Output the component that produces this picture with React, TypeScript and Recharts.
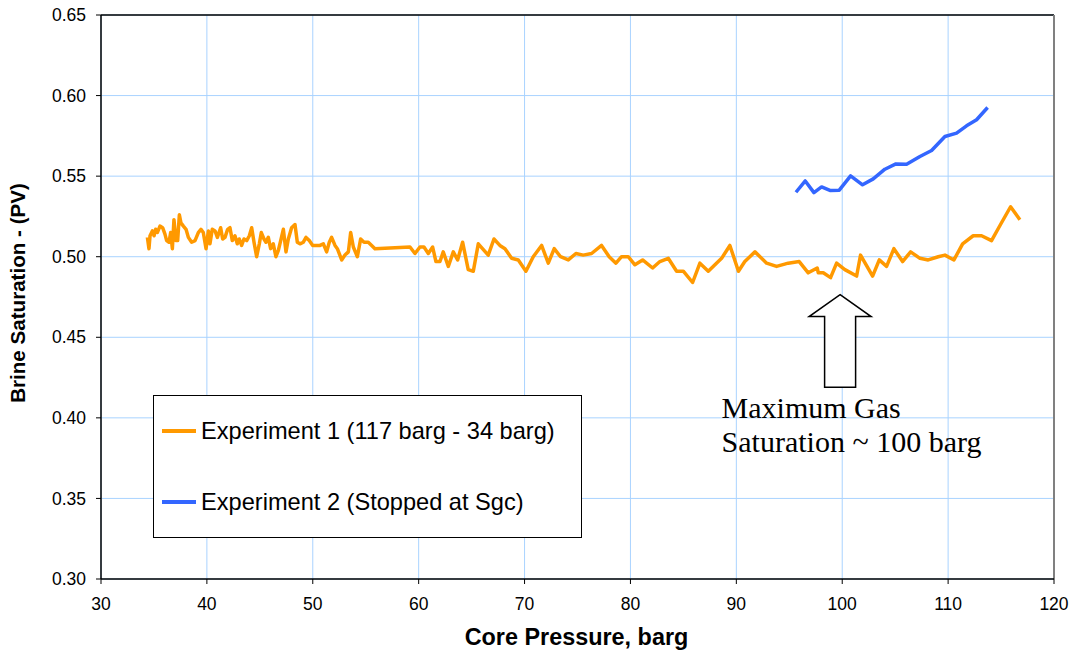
import React from 'react';
import {
  LineChart,
  Line,
  XAxis,
  YAxis,
  CartesianGrid,
  Legend,
  ReferenceLine,
  ReferenceDot,
  Label,
} from 'recharts';

const SANS = '"Liberation Sans", Arial, Helvetica, sans-serif';
const SERIF = '"Liberation Serif", "Times New Roman", serif';

const exp1Pressure = [
  34.38, 34.53, 34.63, 34.85, 35.01, 35.16, 35.32, 35.57, 35.82, 36.04, 36.2, 36.42, 36.58, 36.74, 36.89,
  37.08, 37.24, 37.4, 37.55, 37.78, 38.03, 38.25, 38.56, 38.88, 39.19, 39.44, 39.66, 39.92, 40.14, 40.29,
  40.51, 40.77, 40.99, 41.3, 41.49, 41.71, 41.96, 42.18, 42.4, 42.65, 42.87, 43.06, 43.28, 43.5, 43.76,
  44.01, 44.23, 44.45, 44.7, 44.95, 45.14, 45.39, 45.58, 45.8, 46.02, 46.27, 46.52, 46.75, 46.97, 47.22,
  47.47, 47.69, 48.0, 48.32, 48.54, 48.79, 49.11, 49.36, 49.67, 49.99, 50.37, 50.68, 51.0, 51.31, 51.56,
  51.78, 52.1, 52.32, 52.73, 53.04, 53.36, 53.58, 53.83, 54.21, 54.52, 54.84, 55.24, 55.56, 55.87, 59.18,
  59.65, 60.12, 60.5, 60.91, 61.32, 61.63, 62.01, 62.32, 62.8, 63.27, 63.68, 64.15, 64.68, 65.16, 65.63,
  66.57, 67.11, 67.67, 68.15, 68.78, 69.41, 70.13, 70.82, 71.61, 72.24, 72.8, 73.4, 74.13, 74.85, 75.54,
  76.33, 77.27, 77.99, 78.63, 79.16, 79.79, 80.42, 81.15, 82.09, 82.78, 83.57, 84.36, 84.99, 85.87, 86.56,
  87.35, 88.61, 89.39, 90.2, 90.8, 91.76, 92.86, 93.8, 94.9, 95.94, 96.79, 97.64, 97.74, 98.21, 98.9,
  99.47, 100.25, 101.36, 101.73, 102.87, 103.5, 104.19, 104.88, 105.7, 106.46, 107.34, 108.12, 109.07, 109.7, 110.55,
  111.37, 112.37, 113.16, 114.1, 114.95, 115.9, 116.78,
];

const exp1Saturation = [
  0.512, 0.505, 0.513, 0.516, 0.513, 0.517, 0.515, 0.519, 0.518, 0.514, 0.51, 0.509, 0.515, 0.505, 0.523,
  0.51, 0.51, 0.526, 0.521, 0.519, 0.517, 0.512, 0.509, 0.51, 0.515, 0.517, 0.515, 0.505, 0.516, 0.508,
  0.517, 0.516, 0.512, 0.518, 0.511, 0.512, 0.517, 0.518, 0.51, 0.513, 0.508, 0.511, 0.507, 0.511, 0.51,
  0.513, 0.518, 0.509, 0.5, 0.508, 0.515, 0.511, 0.509, 0.512, 0.505, 0.508, 0.5, 0.504, 0.51, 0.517,
  0.503, 0.511, 0.518, 0.52, 0.509, 0.508, 0.509, 0.512, 0.51, 0.507, 0.507, 0.507, 0.508, 0.503, 0.509,
  0.512, 0.507, 0.505, 0.498, 0.501, 0.503, 0.515, 0.506, 0.5, 0.511, 0.509, 0.509, 0.507, 0.505, 0.506,
  0.502, 0.506, 0.506, 0.502, 0.506, 0.497, 0.497, 0.503, 0.494, 0.503, 0.498, 0.509, 0.492, 0.491, 0.508,
  0.501, 0.511, 0.507, 0.505, 0.499, 0.498, 0.491, 0.5, 0.507, 0.496, 0.505, 0.5, 0.498, 0.502, 0.501,
  0.502, 0.507, 0.5, 0.496, 0.5, 0.5, 0.495, 0.498, 0.493, 0.497, 0.499, 0.491, 0.491, 0.484, 0.496,
  0.491, 0.499, 0.507, 0.491, 0.497, 0.503, 0.496, 0.494, 0.496, 0.497, 0.49, 0.493, 0.49, 0.49, 0.487,
  0.496, 0.492, 0.488, 0.501, 0.488, 0.498, 0.494, 0.505, 0.497, 0.503, 0.499, 0.498, 0.5, 0.501, 0.498,
  0.508, 0.513, 0.513, 0.51, 0.52, 0.531, 0.523,
];

const exp2Pressure = [
  95.63, 96.51, 97.33, 98.05, 98.84, 99.72, 100.79, 101.92, 102.93, 104.03, 105.07, 106.08, 107.34, 108.44,
  109.7, 110.8, 111.74, 112.69, 113.73,
];

const exp2Saturation = [
  0.54, 0.547, 0.5398, 0.5433, 0.5411, 0.5413, 0.5502, 0.5446, 0.5483, 0.5543, 0.5576, 0.5574, 0.5622, 0.5659,
  0.5746, 0.5767, 0.5812, 0.585, 0.5926,
];

const xTicks = [30, 40, 50, 60, 70, 80, 90, 100, 110, 120];
const yTicks = [0.3, 0.35, 0.4, 0.45, 0.5, 0.55, 0.6, 0.65];

const seriesNames = ['Experiment 1 (117 barg - 34 barg)', 'Experiment 2 (Stopped at Sgc)'];
const seriesColors = ['#FF9900', '#3366FF'];
const xTitle = 'Core Pressure, barg';
const yTitle = 'Brine Saturation - (PV)';
const annotationLines = ['Maximum Gas', 'Saturation ~ 100 barg'];
const arrowTipPressure = 99.8;
const arrowTipSaturation = 0.4765;

const exp1Data = exp1Pressure.map((p, i) => ({ p, s: exp1Saturation[i] }));
const exp2Data = exp2Pressure.map((p, i) => ({ p, s: exp2Saturation[i] }));

const ArrowShape = (props: any) => {
  const { cx, cy } = props;
  if (cx == null || cy == null) return null;
  const rel = [
    [0, 0],
    [31, 22],
    [15.5, 22],
    [15.5, 92.6],
    [-15.5, 92.6],
    [-15.5, 22],
    [-31, 22],
  ];
  const pts = rel.map(([dx, dy]) => `${cx + dx},${cy + dy}`).join(' ');
  return (
    <g>
      <polygon points={pts} fill="#fff" stroke="#000" strokeWidth={1.5} />
      <text x={cx - 118.5} y={cy + 123.6} fontFamily={SERIF} fontSize={30} fill="#000">
        {annotationLines[0]}
      </text>
      <text x={cx - 118.5} y={cy + 157.6} fontFamily={SERIF} fontSize={30} fill="#000">
        {annotationLines[1]}
      </text>
    </g>
  );
};

const renderLegend = () => (
  <div
    style={{
      width: 429,
      height: 143,
      border: '1px solid #000',
      boxSizing: 'border-box',
      background: '#fff',
      position: 'relative',
      fontFamily: SANS,
    }}
  >
    {seriesNames.map((name, i) => (
      <div
        key={name}
        style={{
          position: 'absolute',
          left: 8,
          top: (i === 0 ? 35 : 106) - 15,
          height: 30,
          display: 'flex',
          alignItems: 'center',
          whiteSpace: 'nowrap',
        }}
      >
        <div style={{ width: 34, height: 3.5, background: seriesColors[i], marginRight: 5 }} />
        <span style={{ fontSize: 23.6, color: '#000' }}>{name}</span>
      </div>
    ))}
  </div>
);

export default function App() {
  return (
    <div style={{ position: 'absolute', left: 0, top: 0, width: 1076, height: 653, background: '#fff' }}>
      <LineChart
        width={1076}
        height={653}
        margin={{ top: 15, right: 22, bottom: 14, left: 0 }}
      >
        <CartesianGrid stroke="#A9D3FF" strokeWidth={1} />
        <XAxis
          type="number"
          dataKey="p"
          domain={[30, 120]}
          ticks={xTicks}
          interval={0}
          height={60}
          tickSize={5}
          tickMargin={14}
          axisLine={{ stroke: '#000', strokeWidth: 1.5 }}
          tickLine={{ stroke: '#000' }}
          tick={{ fill: '#000', fontSize: 17.5, fontFamily: SANS }}
          allowDataOverflow
        >
          <Label
            content={(p: any) => {
              const vb = p.viewBox || { x: 101, y: 579, width: 953, height: 60 };
              return (
                <text
                  x={vb.x + vb.width / 2 - 1}
                  y={vb.y + 65.5}
                  textAnchor="middle"
                  fontFamily={SANS}
                  fontWeight="bold"
                  fontSize={23.4}
                  fill="#000"
                >
                  {xTitle}
                </text>
              );
            }}
          />
        </XAxis>
        <YAxis
          type="number"
          domain={[0.3, 0.65]}
          ticks={yTicks}
          interval={0}
          width={101}
          tickSize={5}
          tickMargin={10}
          tickFormatter={(v: number) => v.toFixed(2)}
          axisLine={{ stroke: '#000', strokeWidth: 1.5 }}
          tickLine={{ stroke: '#000' }}
          tick={{ fill: '#000', fontSize: 17.5, fontFamily: SANS }}
          allowDataOverflow
        >
          <Label
            content={(p: any) => {
              const vb = p.viewBox || { x: 0, y: 15, width: 101, height: 564 };
              const cx = vb.x + 25;
              const cy = vb.y + vb.height / 2 - 4;
              return (
                <text
                  x={cx}
                  y={cy}
                  transform={`rotate(-90, ${cx}, ${cy})`}
                  textAnchor="middle"
                  fontFamily={SANS}
                  fontWeight="bold"
                  fontSize={20.6}
                  fill="#000"
                >
                  {yTitle}
                </text>
              );
            }}
          />
        </YAxis>
        <ReferenceLine y={0.65} stroke="#000" strokeWidth={1.5} />
        <ReferenceLine x={120} stroke="#808080" strokeWidth={2} />
        <Line
          data={exp1Data}
          dataKey="s"
          name={seriesNames[0]}
          stroke={seriesColors[0]}
          strokeWidth={3.5}
          dot={false}
          activeDot={false}
          strokeLinejoin="round"
          isAnimationActive={false}
        />
        <Line
          data={exp2Data}
          dataKey="s"
          name={seriesNames[1]}
          stroke={seriesColors[1]}
          strokeWidth={3.5}
          dot={false}
          activeDot={false}
          strokeLinejoin="round"
          isAnimationActive={false}
        />
        <ReferenceDot x={arrowTipPressure} y={arrowTipSaturation} shape={ArrowShape} />
        <Legend
          layout="vertical"
          align="center"
          verticalAlign="middle"
          content={renderLegend}
          wrapperStyle={{ left: 153, top: 395, width: 429, height: 143 }}
        />
      </LineChart>
    </div>
  );
}
